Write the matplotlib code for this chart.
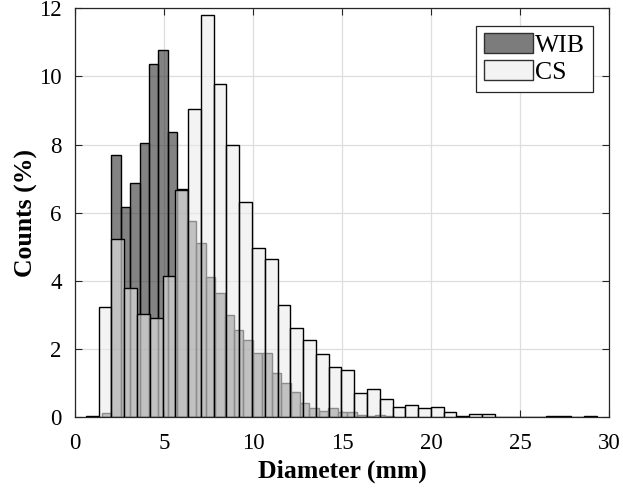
import matplotlib
matplotlib.use('Agg')
import matplotlib.pyplot as plt
from matplotlib.patches import Patch

# bin layout (mm)
cs_start, cs_width = 0.61, 0.718
wib_start, wib_width = 1.51, 0.530

# CS counts (%), one per bin
cs_counts = [0.04, 3.23, 5.24, 3.78, 3.03, 2.90, 4.15, 6.66, 9.05, 11.79,
             9.79, 8.00, 6.31, 4.97, 4.65, 3.30, 2.63, 2.26, 1.85, 1.48,
             1.39, 0.72, 0.84, 0.55, 0.29, 0.35, 0.26, 0.29, 0.16, 0.03,
             0.09, 0.09, 0.0, 0.0, 0.0, 0.0, 0.03, 0.03, 0.0, 0.03]

# WIB counts (%)
wib_counts = [0.14, 7.70, 6.16, 6.87, 8.06, 10.37, 10.78, 8.37, 6.69, 5.76,
              5.11, 4.11, 3.64, 3.01, 2.57, 2.26, 1.88, 1.88, 1.30, 1.02,
              0.75, 0.41, 0.26, 0.18, 0.26, 0.15, 0.15, 0.06, 0.03, 0.06,
              0.05]

cs_left = [cs_start + i * cs_width for i in range(len(cs_counts))]
wib_left = [wib_start + i * wib_width for i in range(len(wib_counts))]

plt.rcParams['font.family'] = ['Liberation Serif', 'DejaVu Serif']

fig = plt.figure(figsize=(6.23, 4.9), dpi=100)
ax = fig.add_axes([0.1204, 0.1484, 0.8571, 0.8346])

wib_face = (0.19, 0.19, 0.19, 0.6)
cs_face = (0.92, 0.92, 0.92, 0.6)
ax.bar(wib_left, wib_counts, width=wib_width, align='edge',
       facecolor=wib_face, edgecolor='black', linewidth=1.0, zorder=2)
ax.bar(cs_left, cs_counts, width=cs_width, align='edge',
       facecolor=cs_face, edgecolor='black', linewidth=1.0, zorder=3)

ax.set_xlim(0, 30)
ax.set_ylim(0, 12)
ax.set_xticks([0, 5, 10, 15, 20, 25, 30])
ax.set_yticks([0, 2, 4, 6, 8, 10, 12])
ax.grid(True, color='#dedede', linewidth=0.9)
ax.set_axisbelow(True)
ax.tick_params(direction='in', top=True, right=True, labelsize=16.5,
               length=5, width=0.8, color='#262626')
ax.tick_params(axis='x', pad=11)
ax.tick_params(axis='y', pad=9.5)
for s in ax.spines.values():
    s.set_color('#262626')
    s.set_linewidth(0.9)

ax.set_xlabel('Diameter (mm)', fontsize=18.5, fontweight='bold', labelpad=4)
ax.set_ylabel('Counts (%)', fontsize=18.5, fontweight='bold', labelpad=1)

handles = [Patch(facecolor='#7c7c7c', edgecolor='#303030', label='WIB'),
           Patch(facecolor='#f3f3f3', edgecolor='#303030', label='CS')]
leg = ax.legend(handles=handles, loc='upper right',
                bbox_to_anchor=(0.970, 0.958), borderaxespad=0,
                fontsize=18.5, fancybox=False, framealpha=1,
                edgecolor='#262626', handlelength=1.9, handleheight=0.8,
                handletextpad=0.1, labelspacing=0.12, borderpad=0.3)
leg.get_frame().set_linewidth(0.9)

fig.savefig('out.png', dpi=100)
